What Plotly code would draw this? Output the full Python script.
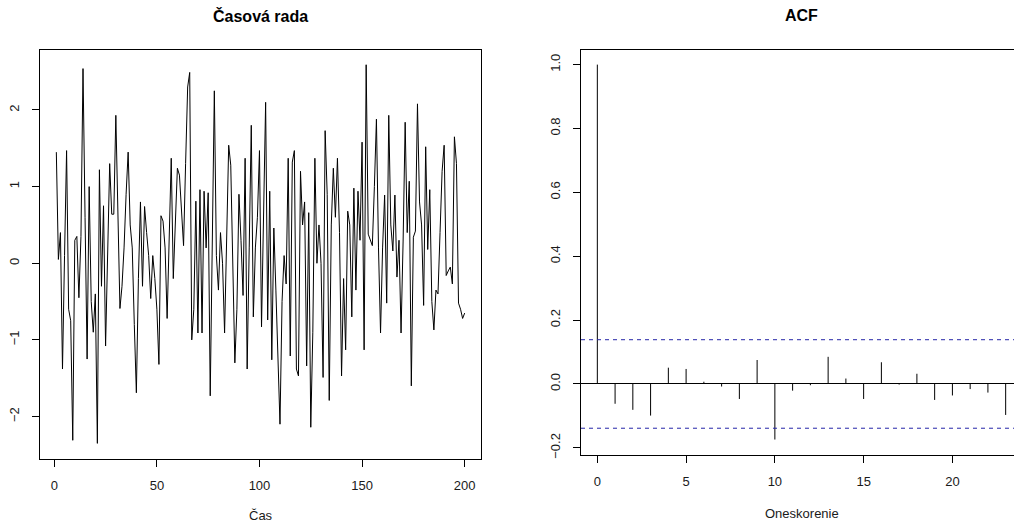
import numpy as np
import plotly.graph_objects as go

# ---------------- data ----------------
series = [
    1.45, 0.05, 0.40, -1.38, 0.10, 1.47, -0.60, -0.75, -2.31, 0.30,
    0.35, -0.45, 0.35, 2.54, 0.60, -1.25, 1.00, -0.50, -0.90, -0.40,
    -2.35, 1.22, -0.30, 0.75, -1.08, 0.30, 1.30, 0.64, 0.64, 1.93,
    0.60, -0.59, -0.30, 0.20, 0.90, 1.45, 0.50, 0.20, -0.80, -1.69,
    -0.20, 0.80, -0.30, 0.74, 0.40, 0.10, -0.46, 0.10, -0.20, -0.60,
    -1.32, 0.62, 0.55, 0.20, -0.72, 0.50, 1.37, -0.20, 0.50, 1.24,
    1.15, 0.60, 0.23, 1.30, 2.30, 2.49, -1.00, -0.60, 0.81, -0.91,
    0.96, -0.91, 0.94, 0.20, 0.92, -1.73, 0.30, 2.25, 0.10, -0.35,
    0.40, 0.00, -0.91, 0.50, 1.54, 1.28, 0.00, -1.30, -0.60, 0.90,
    0.30, -0.42, 1.37, -1.38, 0.20, 1.80, -0.70, 0.20, 0.60, 1.47,
    -0.83, 0.50, 2.10, -0.74, 0.94, -1.26, 0.46, -0.35, -1.20, -2.10,
    -0.50, 0.10, -0.27, 1.37, -1.21, 1.32, 1.47, -1.38, -1.47, 1.20,
    0.50, 0.80, -1.34, 0.66, -2.14, -0.90, 1.37, 0.00, 0.50, 0.00,
    -1.49, 1.73, 0.90, -1.79, 0.50, 1.24, 0.60, 1.37, 0.40, -1.47,
    -0.20, -1.13, 0.68, 0.50, -0.70, 0.98, -0.35, 0.94, 0.30, 1.58,
    -1.13, 2.59, 0.38, 0.30, 0.23, 1.00, 1.88, 0.20, -0.91, 0.20,
    0.89, -0.52, 1.93, 0.50, 0.16, 0.89, -0.18, 0.30, -0.91, 0.29,
    1.84, 0.40, 1.07, -1.60, 0.34, 0.42, 2.08, 0.80, 0.50, -0.55,
    1.52, 0.18, 0.96, -0.50, -0.87, -0.35, -0.40, 0.40, 1.20, 1.54,
    -0.16, -0.10, -0.05, -0.27, 1.65, 1.30, -0.52, -0.60, -0.72, -0.65,
]
time_idx = list(range(1, len(series) + 1))

lags = list(range(24))
acf_vals = [
    1.000, -0.062, -0.081, -0.099, 0.051, 0.047, 0.007, -0.008, -0.047, 0.075,
    -0.174, -0.021, -0.004, 0.085, 0.017, -0.047, 0.068, -0.002, 0.032, -0.050,
    -0.036, -0.016, -0.027, -0.097,
]

left_title = "Časová rada"
right_title = "ACF"
left_xlabel = "Čas"
right_xlabel = "Oneskorenie"
left_xticks = [0, 50, 100, 150, 200]
left_yticks = [-2, -1, 0, 1, 2]
right_xticks = [0, 5, 10, 15, 20]
right_yticks = [-0.2, 0.0, 0.2, 0.4, 0.6, 0.8, 1.0]

# ---------------- layout geometry (pixels) ----------------
W, H = 1014, 528
LB = dict(x0=40, x1=481, y0=50, y1=462)     # left plot box
RB = dict(x0=581, x1=1022, y0=50, y1=458)   # right plot box (cut off at image edge)
FONT = "Liberation Sans, Arial, sans-serif"
TXT = "#1a1a1a"


def pad(lo, hi, f=0.04):
    d = (hi - lo) * f
    return [lo - d, hi + d]


n = len(series)
clim = 1.959964 / np.sqrt(n)

fig = go.Figure()
fig.add_trace(go.Scatter(
    x=time_idx, y=series, mode="lines",
    line=dict(color="black", width=1),
    xaxis="x", yaxis="y", showlegend=False, hoverinfo="skip",
))

sx, sy = [], []
for lag, v in zip(lags, acf_vals):
    sx += [lag, lag, None]
    sy += [0, v, None]
fig.add_trace(go.Scatter(
    x=sx, y=sy, mode="lines",
    line=dict(color="black", width=1),
    xaxis="x2", yaxis="y2", showlegend=False, hoverinfo="skip",
))

common = dict(
    showgrid=False, showline=True, linecolor="black", linewidth=1,
    ticks="outside", ticklen=7, tickcolor="black", tickwidth=1,
    tickfont=dict(family=FONT, size=13, color=TXT),
)

xr_left = pad(min(time_idx), max(time_idx))
yr_left = pad(min(series), max(series))
xr_right_full = pad(min(lags), max(lags))
vis_frac = (W - RB["x0"]) / (RB["x1"] - RB["x0"])
xr_right = [xr_right_full[0], xr_right_full[0] + (xr_right_full[1] - xr_right_full[0]) * vis_frac]
yr_right = pad(min(min(acf_vals), -clim), max(max(acf_vals), clim))

fig.update_layout(
    width=W, height=H,
    margin=dict(l=0, r=0, t=0, b=0),
    paper_bgcolor="white", plot_bgcolor="white",
    xaxis=dict(domain=[LB["x0"] / W, LB["x1"] / W], range=xr_left, tickvals=left_xticks,
               mirror=True, anchor="y", zeroline=False, ticklabelstandoff=8, **common),
    yaxis=dict(domain=[1 - LB["y1"] / H, 1 - LB["y0"] / H], range=yr_left, tickvals=left_yticks,
               tickangle=-90, mirror=True, anchor="x", zeroline=False, ticklabelstandoff=8, **common),
    xaxis2=dict(domain=[RB["x0"] / W, 1.0], range=xr_right, tickvals=right_xticks,
                mirror=True, anchor="y2", zeroline=False, ticklabelstandoff=8, **common),
    yaxis2=dict(domain=[1 - RB["y1"] / H, 1 - RB["y0"] / H], range=yr_right, tickvals=right_yticks,
                tickformat=".1f", tickangle=-90, mirror=False, anchor="x2", ticklabelstandoff=8,
                zeroline=True, zerolinecolor="black", zerolinewidth=1, **common),
)

for yv in (clim, -clim):
    fig.add_shape(type="line", xref="x2 domain", x0=0, x1=1, yref="y2", y0=yv, y1=yv,
                  line=dict(color="#2525a8", width=1, dash="4px,4px"))


def ann(text, cx, cy, size, bold=False):
    fig.add_annotation(
        text=f"<b>{text}</b>" if bold else text,
        x=cx / W, y=1 - cy / H, xref="paper", yref="paper",
        xanchor="center", yanchor="middle", showarrow=False,
        font=dict(family=FONT, size=size, color=TXT if not bold else "black"),
    )


ann(left_title, (LB["x0"] + LB["x1"]) / 2, 16, 16, bold=True)
ann(right_title, (RB["x0"] + RB["x1"]) / 2, 16, 16, bold=True)
ann(left_xlabel, (LB["x0"] + LB["x1"]) / 2, 519, 13)
ann(right_xlabel, (RB["x0"] + RB["x1"]) / 2, 517, 13)

fig.write_html("out.html", config={"displayModeBar": False},
               post_script="document.body.style.margin='0';")
